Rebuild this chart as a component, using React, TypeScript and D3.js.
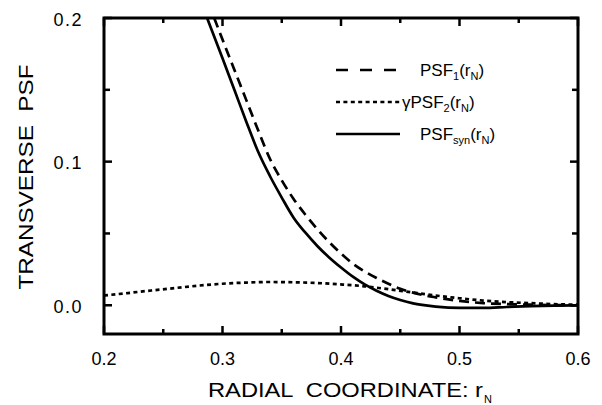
import React from "react";
import * as d3 from "d3";

// values
const xSyn = [0.287, 0.30, 0.31, 0.32, 0.33, 0.34, 0.35, 0.36, 0.37, 0.38, 0.39, 0.40, 0.41, 0.42, 0.43, 0.44, 0.45, 0.46, 0.47, 0.48, 0.50, 0.52, 0.54, 0.56, 0.58, 0.60];
const psfSyn = [0.200, 0.172, 0.150, 0.128, 0.107, 0.090, 0.075, 0.061, 0.0505, 0.0413, 0.0333, 0.0263, 0.0199, 0.0145, 0.0101, 0.0065, 0.0037, 0.0015, 0.0001, -0.0009, -0.0018, -0.0018, -0.0012, -0.0006, -0.0002, 0];

const xPsf1 = [0.293, 0.30, 0.31, 0.32, 0.33, 0.34, 0.35, 0.36, 0.37, 0.38, 0.39, 0.40, 0.41, 0.42, 0.43, 0.44, 0.45, 0.46, 0.47, 0.48, 0.50, 0.52, 0.54, 0.56, 0.58, 0.60];
const psf1 = [0.200, 0.185, 0.164, 0.143, 0.122, 0.102, 0.087, 0.074, 0.063, 0.053, 0.044, 0.036, 0.029, 0.0235, 0.019, 0.015, 0.0115, 0.009, 0.007, 0.0055, 0.003, 0.0015, 0.0008, 0.0004, 0.0001, 0];

const xPsf2 = [0.20, 0.22, 0.24, 0.26, 0.28, 0.30, 0.32, 0.34, 0.36, 0.38, 0.40, 0.42, 0.44, 0.46, 0.48, 0.50, 0.52, 0.54, 0.56, 0.58, 0.60];
const psf2 = [0.0068, 0.0085, 0.0103, 0.012, 0.0137, 0.015, 0.0158, 0.0162, 0.016, 0.0155, 0.0145, 0.0132, 0.0112, 0.009, 0.0068, 0.0049, 0.0033, 0.0022, 0.0015, 0.0008, 0.0004];

const xTicks = [0.2, 0.3, 0.4, 0.5, 0.6];
const xMinor = [0.25, 0.35, 0.45, 0.55];
const yTicks = [0.0, 0.1, 0.2];
const yMinor = [0.05, 0.15];

const font = "Arial, 'Liberation Sans', sans-serif";

export default function App() {
    const width = 602, height = 405;
    const left = 104, right = 578, top = 18, bottom = 334;

    const xScale = d3.scaleLinear().domain([0.2, 0.6]).range([left, right]);
    const yScale = d3.scaleLinear().domain([-0.02, 0.2]).range([bottom, top]);

    const line = d3.line<[number, number]>()
        .x(d => xScale(d[0]))
        .y(d => yScale(d[1]))
        .curve(d3.curveMonotoneX);

    const zip = (xs: number[], ys: number[]) => xs.map((x, i) => [x, ys[i]] as [number, number]);

    const series = [
        {name: "psf1", pts: zip(xPsf1, psf1), dash: "10,6"},
        {name: "psf2", pts: zip(xPsf2, psf2), dash: "4,3.4"},
        {name: "syn", pts: zip(xSyn, psfSyn), dash: undefined},
    ];

    const fmt = d3.format(".1f");

    // inward ticks on all four sides
    const xTickMarks = [...xTicks.map(v => ({v, len: 8})), ...xMinor.map(v => ({v, len: 5}))];
    const yTickMarks = [...yTicks.map(v => ({v, len: 8})), ...yMinor.map(v => ({v, len: 6}))];

    const legend = [
        {y: 70, dash: "12,12", label: ["PSF", "1", "(r", "N", ")"], tx: 420},
        {y: 102, dash: "4,3.4", label: ["\u03b3PSF", "2", "(r", "N", ")"], tx: 402},
        {y: 134, dash: undefined, label: ["PSF", "syn", "(r", "N", ")"], tx: 420},
    ];

    return (
        <svg width={width} height={height} style={{position: "absolute", left: 0, top: 0, background: "#fff"}}
             fontFamily={font}>
            <defs>
                <clipPath id="plot">
                    <rect x={left} y={top} width={right - left} height={bottom - top}/>
                </clipPath>
            </defs>

            <g clipPath="url(#plot)">
                {series.map(s => (
                    <path key={s.name} d={line(s.pts) || ""} fill="none" stroke="#000"
                          strokeWidth={2.7} strokeDasharray={s.dash}/>
                ))}
            </g>

            {/* ticks */}
            {xTickMarks.map((t, i) => (
                <g key={"x" + i}>
                    <line x1={xScale(t.v)} x2={xScale(t.v)} y1={bottom} y2={bottom - t.len} stroke="#000" strokeWidth={2.5}/>
                    <line x1={xScale(t.v)} x2={xScale(t.v)} y1={top} y2={top + t.len} stroke="#000" strokeWidth={2.5}/>
                </g>
            ))}
            {yTickMarks.map((t, i) => (
                <g key={"y" + i}>
                    <line x1={left} x2={left + t.len} y1={yScale(t.v)} y2={yScale(t.v)} stroke="#000" strokeWidth={2.5}/>
                    <line x1={right} x2={right - t.len} y1={yScale(t.v)} y2={yScale(t.v)} stroke="#000" strokeWidth={2.5}/>
                </g>
            ))}

            <rect x={left} y={top} width={right - left} height={bottom - top} fill="none" stroke="#000" strokeWidth={3}/>

            {/* tick labels */}
            {xTicks.map(v => (
                <text key={"xl" + v} x={xScale(v)} y={365} fontSize={18} textAnchor="middle">{fmt(v)}</text>
            ))}
            {yTicks.map(v => (
                <text key={"yl" + v} x={83} y={yScale(v) + 7.5} fontSize={18} letterSpacing={1.5}
                      textAnchor="end">{fmt(v)}</text>
            ))}

            {/* axis titles */}
            <text x={208} y={397} fontSize={21} textLength={275} lengthAdjust="spacingAndGlyphs"
                  style={{whiteSpace: "pre"}}>{"RADIAL  COORDINATE: r"}</text>
            <text x={484} y={403} fontSize={11}>N</text>
            <text transform="translate(33,177) rotate(-90)" fontSize={21} textAnchor="middle"
                  textLength={225} lengthAdjust="spacingAndGlyphs"
                  style={{whiteSpace: "pre"}}>{"TRANSVERSE  PSF"}</text>

            {/* legend */}
            {legend.map((l, i) => (
                <g key={"lg" + i}>
                    <line x1={336} x2={400} y1={l.y} y2={l.y} stroke="#000" strokeWidth={2.7} strokeDasharray={l.dash}/>
                    <text x={l.tx} y={l.y + 6} fontSize={17}>
                        {l.label[0]}
                        <tspan fontSize={11} dy={4}>{l.label[1]}</tspan>
                        <tspan fontSize={17} dy={-4}>{l.label[2]}</tspan>
                        <tspan fontSize={11} dy={4}>{l.label[3]}</tspan>
                        <tspan fontSize={17} dy={-4}>{l.label[4]}</tspan>
                    </text>
                </g>
            ))}
        </svg>
    );
}
